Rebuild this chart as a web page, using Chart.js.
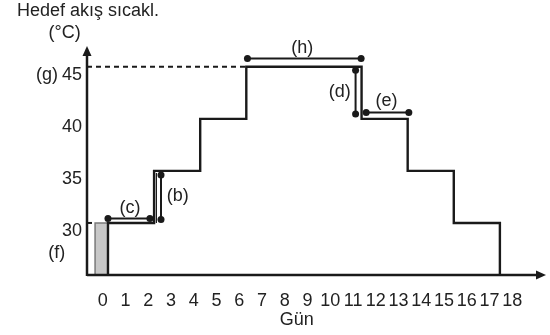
<!DOCTYPE html>
<html><head><meta charset="utf-8">
<script src="https://cdn.jsdelivr.net/npm/chart.js@4/dist/chart.umd.min.js"></script>
<style>html,body{margin:0;padding:0;background:#fff}#wrap{width:550px;height:335px}</style>
</head><body><div id="wrap"><canvas id="c" width="550" height="335"></canvas></div>
<script>
// ---- data ----
const dayLabels = ['0','1','2','3','4','5','6','7','8','9','10','11','12','13','14','15','16','17','18'];
const tempTicks = [30, 35, 40, 45];
const stepDays  = [0, 2, 4, 6, 11, 13, 15, 17];      // day where a new level starts
const stepTemps = [30, 35, 40, 45, 40, 35, 30, 25];  // level (°C) from that day on
const baseTemp  = 25;                                 // axis floor
const preDays   = [-0.56, 0];                         // grey block (f)
const preTemp   = 30;
const maxLineDays = [-0.91, 6];                       // dashed line (g)
const maxTemp   = 45;
const cDays = [0, 1.82];       const cTemps = [30.43, 30.43];
const bDays = [2.3, 2.3];      const bTemps = [30.33, 34.6];
const hDays = [6.05, 10.98];   const hTemps = [45.8, 45.8];
const dDays = [10.74, 10.74];  const dTemps = [40.46, 44.68];
const eDays = [11.2, 13.05];   const eTemps = [40.6, 40.6];
const xMin = -0.91, xMax = 19.0, yMin = 25, yMax = 47;

// ---- build series ----
const stepPts = [];
let prev = baseTemp;
stepDays.forEach((d, i) => { stepPts.push({x: d, y: prev}); stepPts.push({x: d, y: stepTemps[i]}); prev = stepTemps[i]; });
const pair = (xs, ys) => xs.map((x, i) => ({x, y: ys[i]}));
const INK = '#1a1a1a';
const FONT = 'Liberation Sans, Arial, Helvetica, sans-serif';
const FS = 18;

const annotLine = (xs, ys) => ({
  data: pair(xs, ys), showLine: true, borderColor: INK, borderWidth: 2,
  pointRadius: 3.5, pointBackgroundColor: INK, pointBorderWidth: 0
});

const datasets = [
  {data: stepPts, showLine: true, borderColor: INK, borderWidth: 2.4, pointRadius: 0, borderCapStyle: 'square'},
  {data: [{x: 2.1, y: preTemp}, {x: 2.1, y: 35 - 0.2}], showLine: true, borderColor: INK, borderWidth: 1.2, pointRadius: 0},
  annotLine(cDays, cTemps),
  annotLine(bDays, bTemps),
  annotLine(hDays, hTemps),
  annotLine(dDays, dTemps),
  annotLine(eDays, eTemps),
  {data: pair(maxLineDays, [maxTemp, maxTemp]), showLine: true, borderColor: INK, borderWidth: 2, borderDash: [5, 4], pointRadius: 0},
  {data: [{x: xMin, y: preTemp}, {x: preDays[0], y: preTemp}], showLine: true, borderColor: INK, borderWidth: 2, borderDash: [5, 4], pointRadius: 0},
  {data: [{x: preDays[0], y: baseTemp}, {x: preDays[0], y: preTemp}, {x: preDays[1], y: preTemp}, {x: preDays[1], y: baseTemp}],
   showLine: true, borderColor: '#7a7a7a', borderWidth: 1.5, backgroundColor: '#c8c8c8', fill: 'start', pointRadius: 0}
];

const texts = [
  {t: '(c)', x: 0.95, y: 31.4},
  {t: '(b)', x: 3.03, y: 32.57},
  {t: '(h)', x: 8.43, y: 46.81},
  {t: '(d)', x: 10.05, y: 42.58},
  {t: '(e)', x: 12.08, y: 41.71},
  {t: '(f)', x: -2.22, y: 27.09}
];

const decor = {
  id: 'decor',
  afterDraw(chart) {
    const {ctx, scales: {x, y}} = chart;
    const x0 = x.getPixelForValue(xMin), x1 = x.getPixelForValue(xMax);
    const y0 = y.getPixelForValue(yMin), y1 = y.getPixelForValue(yMax);
    ctx.save();
    ctx.strokeStyle = INK; ctx.fillStyle = INK; ctx.lineWidth = 2.5;
    ctx.beginPath(); ctx.moveTo(x0, y0); ctx.lineTo(x1 - 6, y0); ctx.stroke();
    ctx.beginPath(); ctx.moveTo(x0, y0 + 1); ctx.lineTo(x0, y1 + 6); ctx.stroke();
    ctx.beginPath(); ctx.moveTo(x1, y0); ctx.lineTo(x1 - 10, y0 - 4.5); ctx.lineTo(x1 - 10, y0 + 4.5); ctx.closePath(); ctx.fill();
    ctx.beginPath(); ctx.moveTo(x0, y1); ctx.lineTo(x0 - 4.5, y1 + 10); ctx.lineTo(x0 + 4.5, y1 + 10); ctx.closePath(); ctx.fill();

    ctx.fillStyle = '#222';
    ctx.font = FS + 'px ' + FONT;
    ctx.textAlign = 'center'; ctx.textBaseline = 'middle';
    texts.forEach(o => ctx.fillText(o.t, x.getPixelForValue(o.x), y.getPixelForValue(o.y)));
    ctx.textAlign = 'right';
    ctx.fillText('(g)', x.getPixelForValue(-2.165), y.getPixelForValue(maxTemp - 0.77));
    ctx.textAlign = 'center';
    ctx.fillText('Gün', 296.7, 320);
    ctx.textAlign = 'left'; ctx.textBaseline = 'alphabetic';
    ctx.fillText('Hedef akış sıcakl.', 17, 16);
    ctx.textAlign = 'center';
    ctx.fillText('(°C)', 64.7, 38);
    ctx.restore();
  }
};

new Chart(document.getElementById('c'), {
  type: 'scatter',
  data: {datasets},
  options: {
    responsive: false, animation: false, events: [], devicePixelRatio: 1,
    layout: {padding: {top: 46, right: 3, left: 0, bottom: 0}},
    plugins: {legend: {display: false}, tooltip: {enabled: false}},
    scales: {
      x: {
        type: 'linear', min: xMin, max: xMax,
        grid: {display: false, drawTicks: false}, border: {display: false},
        afterFit: s => { s.height = 60; },
        afterBuildTicks: s => { s.ticks = dayLabels.map(d => ({value: Number(d) * 0.987 - 0.225})); },
        ticks: {autoSkip: false, maxRotation: 0, minRotation: 0, padding: 15, color: '#222', font: {family: FONT, size: FS},
                callback: (v, i) => dayLabels[i]}
      },
      y: {
        type: 'linear', min: yMin, max: yMax,
        grid: {display: false, drawTicks: false}, border: {display: false},
        afterFit: s => { s.width = 87; },
        afterBuildTicks: s => { s.ticks = tempTicks.map(v => ({value: v - 0.77})); },
        ticks: {autoSkip: false, padding: 5, color: '#222', font: {family: FONT, size: FS},
                callback: (v, i) => String(tempTicks[i])}
      }
    }
  },
  plugins: [decor]
});
</script></body></html>
